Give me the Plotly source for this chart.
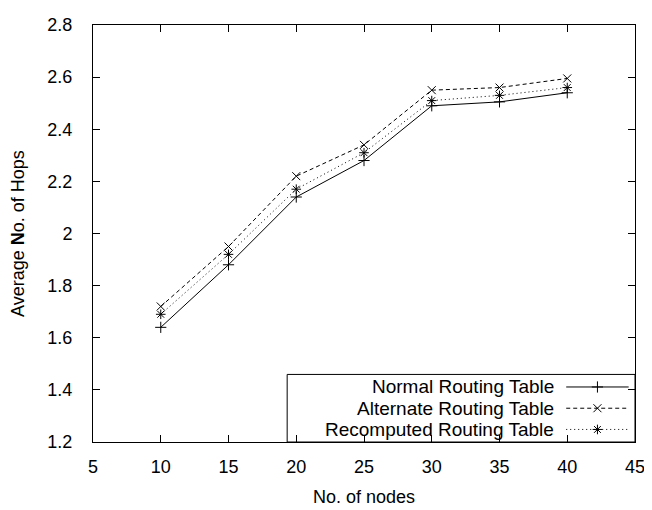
import plotly.graph_objects as go

nodes = [10, 15, 20, 25, 30, 35, 40]
normal = [1.64, 1.88, 2.14, 2.28, 2.49, 2.505, 2.54]
alternate = [1.72, 1.95, 2.22, 2.34, 2.55, 2.56, 2.595]
recomputed = [1.69, 1.92, 2.17, 2.31, 2.51, 2.53, 2.56]

series_names = ["Normal Routing Table", "Alternate Routing Table", "Recomputed Routing Table"]
x_ticks = [5, 10, 15, 20, 25, 30, 35, 40, 45]
y_ticks = [1.2, 1.4, 1.6, 1.8, 2.0, 2.2, 2.4, 2.6, 2.8]
y_tick_text = ["1.2", "1.4", "1.6", "1.8", "2", "2.2", "2.4", "2.6", "2.8"]

FONT = "Liberation Sans, Arial, Helvetica, sans-serif"
FS = 18
KEY_FS = 19
# page has an 8px body margin; figure is sized to fill the rest of the window
OFF = 8
W, H = 652 - OFF, 510 - OFF
# plot area in page pixels
PX0, PX1 = 85, 640.5
PY0, PY1 = 15, 447
L, R = PX0 - OFF, W - (PX1 - OFF)
T, B = PY0 - OFF, H - (PY1 - OFF)

styles = [
    dict(dash="solid", symbol="cross-thin-open", size=8),
    dict(dash="4px,3px", symbol="x-thin-open", size=8),
    dict(dash="1px,3px", symbol="asterisk-open", size=8),
]
values = [normal, alternate, recomputed]

fig = go.Figure()
for name, vals, st in zip(series_names, values, styles):
    fig.add_trace(go.Scatter(
        x=nodes, y=vals, mode="lines+markers", name=name, showlegend=False,
        line=dict(color="black", width=1, dash=st["dash"]),
        marker=dict(symbol=st["symbol"], size=st["size"], color="black",
                    line=dict(color="black", width=1)),
    ))

# gnuplot-style key (text left, sample right), drawn on pixel overlay axes
box_x0, box_x1 = 284, PX1
box_y0, box_y1 = 377, PY1
row_y = [390, 412, 434]
text_right = 560
samp_x0, samp_x1 = 570, 634
for name, st, ry in zip(series_names, styles, row_y):
    fig.add_trace(go.Scatter(
        x=[samp_x0, samp_x1], y=[ry, ry], mode="lines", xaxis="x2", yaxis="y2",
        showlegend=False, hoverinfo="skip",
        line=dict(color="black", width=1, dash=st["dash"]),
    ))
    fig.add_trace(go.Scatter(
        x=[(samp_x0 + samp_x1) / 2], y=[ry], mode="markers", xaxis="x2", yaxis="y2",
        showlegend=False, hoverinfo="skip",
        marker=dict(symbol=st["symbol"], size=st["size"], color="black",
                    line=dict(color="black", width=1)),
    ))
    fig.add_annotation(x=text_right, y=ry, xref="x2", yref="y2", text=name,
                       showarrow=False, xanchor="right", yanchor="middle",
                       font=dict(family=FONT, size=KEY_FS, color="black"))
fig.add_shape(type="rect", xref="x2", yref="y2", x0=box_x0, x1=box_x1, y0=box_y0, y1=box_y1,
              line=dict(color="black", width=1), fillcolor="rgba(0,0,0,0)")

axis_common = dict(showgrid=False, zeroline=False, showline=True, linecolor="black",
                   linewidth=1, mirror="allticks", ticks="inside", ticklen=7,
                   tickcolor="black", tickwidth=1, ticklabeloverflow="allow",
                   tickfont=dict(family=FONT, size=FS, color="black"))

fig.update_layout(
    width=W, height=H, margin=dict(l=L, r=R, t=T, b=B, pad=0),
    paper_bgcolor="white", plot_bgcolor="white", showlegend=False,
    xaxis=dict(range=[5, 45], tickvals=x_ticks, ticktext=[str(v) for v in x_ticks],
               ticklabelstandoff=8,
               title=dict(text="No. of nodes", font=dict(family=FONT, size=FS, color="black"),
                          standoff=14), **axis_common),
    yaxis=dict(range=[1.2, 2.8], tickvals=y_ticks, ticktext=y_tick_text,
               ticklabelstandoff=16,
               title=dict(text="Average <b>N</b>o. of Hops",
                          font=dict(family=FONT, size=FS, color="black"), standoff=20),
               **axis_common),
    xaxis2=dict(range=[PX0, PX1], overlaying="x", visible=False, fixedrange=True),
    yaxis2=dict(range=[PY1, PY0], overlaying="y", visible=False, fixedrange=True),
)

fig.write_html("out.html")
